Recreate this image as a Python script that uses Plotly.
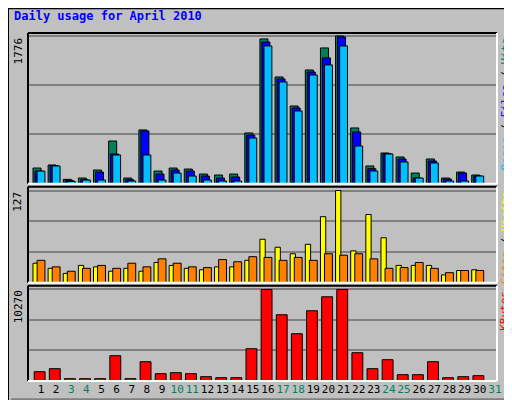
import plotly.graph_objects as go

days = list(range(1, 32))
day_labels = [str(d) for d in days]
weekend_days = [3, 4, 10, 11, 17, 18, 24, 25, 31]

hits = [188,225,52,68,164,513,68,646,152,188,176,116,104,116,610,1740,1283,934,1367,1632,1776,670,213,369,321,128,297,68,140,104,0]
files = [152,217,40,48,140,357,48,634,116,164,152,92,68,80,585,1704,1259,910,1343,1512,1764,622,180,361,297,68,273,56,128,92,0]
pages = [152,213,28,44,44,345,32,345,44,128,92,44,32,32,549,1656,1223,874,1307,1428,1656,453,152,357,261,68,249,32,32,92,0]
visits = [27,20,13,24,22,16,20,16,28,24,20,18,22,22,31,60,49,40,53,91,127,44,94,62,24,24,24,11,17,18,0]
sites = [31,22,16,20,24,20,27,22,33,27,22,21,32,29,36,35,31,35,31,40,38,40,33,20,21,28,20,14,17,17,0]
kbytes = [1046,1382,261,261,261,2839,261,2166,822,934,822,486,374,374,3623,10270,7433,5304,7881,9450,10270,3175,1382,2390,710,710,2166,374,486,598,0]

max_top, max_mid, max_bot = 1776, 127, 10270
font = "DejaVu Sans Mono"
line = dict(color="black", width=1)

fig = go.Figure()
def bar(y, color, off, w, ax):
    fig.add_trace(go.Bar(x=days, y=y, marker=dict(color=color, line=line),
                         offset=off, width=w, xaxis="x" if ax == "y" else "x" + ax[1:],
                         yaxis=ax, showlegend=False, hoverinfo="skip"))

bar(hits, "#00805C", -0.53, 0.53, "y")
bar(files, "#0000FF", -0.40, 0.53, "y")
bar(pages, "#00BFFF", -0.26, 0.52, "y")
bar(visits, "#FFFF00", -0.53, 0.35, "y2")
bar(sites, "#FF8000", -0.26, 0.52, "y2")
bar(kbytes, "#FF0000", -0.45, 0.72, "y3")

xr = [0.14, 31.14]
tick_text = [f'<span style="color:#008060">{l}</span>' if d in weekend_days else l
             for d, l in zip(days, day_labels)]
common_x = dict(range=xr, showgrid=False, zeroline=False, showline=False, fixedrange=True)
fig.update_layout(
    width=512, height=400, margin=dict(l=20, r=23, t=25, b=24),
    paper_bgcolor="#C0C0C0", plot_bgcolor="#C0C0C0", barmode="overlay",
    font=dict(family=font, size=11, color="black"),
    xaxis=dict(**common_x, anchor="y", showticklabels=False),
    xaxis2=dict(**common_x, anchor="y2", matches="x", showticklabels=False),
    xaxis3=dict(**common_x, anchor="y3", matches="x", tickmode="array", tickvals=days,
                ticktext=tick_text, ticks="", tickangle=0, ticklen=0,
                tickfont=dict(family=font, size=11)),
    yaxis=dict(domain=[0.567, 1], range=[0, max_top * 1.02], dtick=max_top / 3, showticklabels=False,
               gridcolor="#808080", gridwidth=1.5, zeroline=False),
    yaxis2=dict(domain=[0.282, 0.558], range=[0, max_mid * 1.04], dtick=max_mid / 3, showticklabels=False,
                gridcolor="#808080", gridwidth=1.5, zeroline=False),
    yaxis3=dict(domain=[0, 0.2735], range=[0, max_bot * 1.04], dtick=max_bot / 3, showticklabels=False,
                gridcolor="#808080", gridwidth=1.5, zeroline=False),
)

shapes = []
for (y0, y1) in [(0.567, 1), (0.282, 0.558), (0, 0.2735)]:
    shapes.append(dict(type="line", xref="paper", yref="paper", x0=0, x1=1, y0=y1, y1=y1, line=dict(color="black", width=2)))
    shapes.append(dict(type="line", xref="paper", yref="paper", x0=0, x1=0, y0=y0, y1=y1, line=dict(color="black", width=2)))
    shapes.append(dict(type="line", xref="paper", yref="paper", x0=0, x1=1, y0=y0, y1=y0, line=dict(color="white", width=2)))
    shapes.append(dict(type="line", xref="paper", yref="paper", x0=1, x1=1, y0=y0, y1=y1, line=dict(color="white", width=2)))
shapes.append(dict(type="rect", xref="paper", yref="paper", x0=-20/469, x1=1+23/469, y0=-24/351, y1=1+25/351,
                   line=dict(color="black", width=2)))
shapes.append(dict(type="line", xref="paper", yref="paper", x0=1+19/469, x1=1+19/469, y0=-20/351, y1=1+21/351,
                   line=dict(color="#808080", width=5)))
shapes.append(dict(type="line", xref="paper", yref="paper", x0=-17/469, x1=1+19/469, y0=-20/351, y1=-20/351,
                   line=dict(color="#808080", width=5)))
fig.update_layout(shapes=shapes)

ann = []
ann.append(dict(xref="paper", yref="paper", x=-16/469, y=1+(25-8)/351, xanchor="left", yanchor="middle",
                text="<b>Daily usage for April 2010</b>", showarrow=False,
                font=dict(family=font, size=12, color="#0000FF")))
for lbl, ytop in [("1776", 1), ("127", 0.558), ("10270", 0.2735)]:
    ann.append(dict(xref="paper", yref="paper", x=-10/469, y=ytop - 3/351, textangle=-90,
                    xanchor="center", yanchor="top", text=lbl, showarrow=False,
                    font=dict(family=font, size=11, color="black")))
right = [
    ('<span style="color:#00BFFF">Pages</span> / <span style="color:#0000FF">Files</span> / <span style="color:#00805C">Hits</span>', 1),
    ('<span style="color:#FF8000">Sites</span> / <span style="color:#FFFF00">Visits</span>', 0.558),
    ('<span style="color:#FF0000">KBytes</span>', 0.2735),
]
for txt, ytop in right:
    ann.append(dict(xref="paper", yref="paper", x=1+8/469, y=ytop - 3/351, textangle=-90,
                    xanchor="center", yanchor="top", text=txt, showarrow=False,
                    font=dict(family=font, size=11, color="black")))
fig.update_layout(annotations=ann)
fig.write_html("out.html")
